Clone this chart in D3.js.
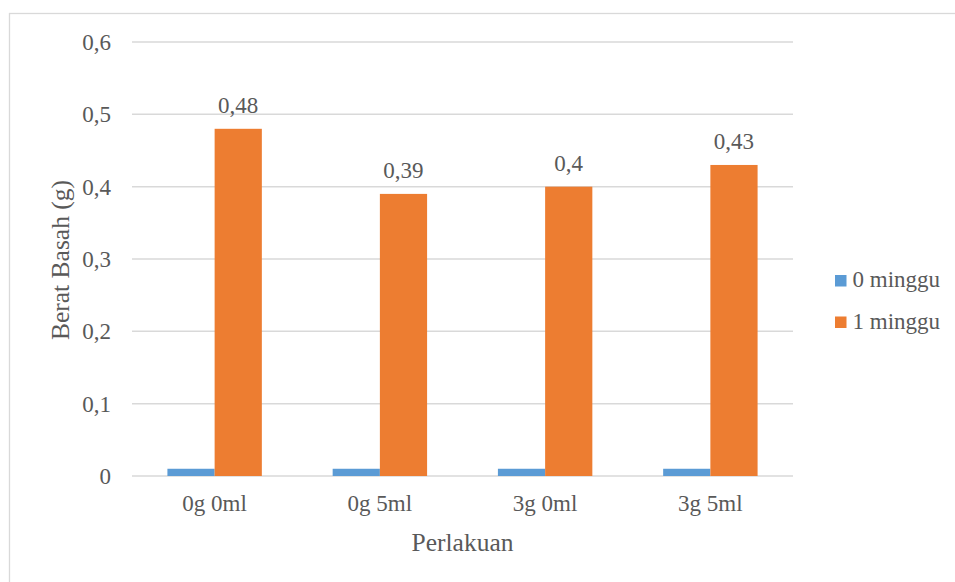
<!DOCTYPE html>
<html>
<head>
<meta charset="utf-8">
<script src="https://cdn.jsdelivr.net/npm/d3@7/dist/d3.min.js"></script>
<style>
  html, body { margin: 0; padding: 0; background: #ffffff; }
  svg { display: block; }
</style>
</head>
<body>
<svg id="chart" width="955" height="582" font-family="Liberation Serif, Times New Roman, Times, serif"></svg>
<script>
// Wet weight per treatment, at week 0 and week 1
const categories = ["0g 0ml", "0g 5ml", "3g 0ml", "3g 5ml"];
const seriesNames = ["0 minggu", "1 minggu"];
const week0 = [0.01, 0.01, 0.01, 0.01];
const week1 = [0.48, 0.39, 0.4, 0.43];
const week1Labels = ["0,48", "0,39", "0,4", "0,43"];
const yTicks = [0, 0.1, 0.2, 0.3, 0.4, 0.5, 0.6];
const yTickLabels = ["0", "0,1", "0,2", "0,3", "0,4", "0,5", "0,6"];
const colors = ["#5b9bd5", "#ed7d31"];

const FONT = "'Liberation Serif', 'Times New Roman', Times, serif";
const TEXT_COLOR = "#595959";

const svg = d3.select("#chart");

// Outer chart frame (right and bottom edges run past the canvas)
svg.append("rect")
  .attr("x", 9.5).attr("y", 13.5)
  .attr("width", 1000).attr("height", 1000)
  .attr("fill", "none").attr("stroke", "#d9d9d9").attr("stroke-width", 1.3);

const plot = { left: 132, right: 793, top: 42, bottom: 476 };

const y = d3.scaleLinear().domain([0, 0.6]).range([plot.bottom, plot.top]);
const x0 = d3.scaleBand().domain(categories).range([plot.left, plot.right]).padding(0);
const x1 = d3.scaleBand().domain(seriesNames).range([0, x0.bandwidth()])
  .paddingInner(0).paddingOuter(0.75);

function styleText(sel, size) {
  return sel.style("font-family", FONT).style("font-size", size + "px").attr("fill", TEXT_COLOR);
}

// Gridlines
svg.append("g").selectAll("line").data(yTicks).join("line")
  .attr("x1", plot.left).attr("x2", plot.right)
  .attr("y1", d => y(d)).attr("y2", d => y(d))
  .attr("stroke", "#d9d9d9").attr("stroke-width", 1.5);

// Y tick labels
styleText(svg.append("g").selectAll("text").data(yTicks).join("text")
  .attr("x", 111).attr("y", d => y(d))
  .attr("dy", "0.35em")
  .attr("text-anchor", "end")
  .text((d, i) => yTickLabels[i]), 23);

// Bars
const rows = categories.map((c, i) => ({ cat: c, vals: [week0[i], week1[i]] }));
const groups = svg.append("g").selectAll("g").data(rows).join("g")
  .attr("transform", d => `translate(${x0(d.cat)},0)`);

groups.selectAll("rect")
  .data(d => d.vals.map((v, k) => ({ key: seriesNames[k], v, k })))
  .join("rect")
  .attr("x", d => x1(d.key))
  .attr("width", x1.bandwidth())
  .attr("y", d => y(d.v))
  .attr("height", d => y(0) - y(d.v))
  .attr("fill", d => colors[d.k]);

// Value labels on the week-1 bars
styleText(svg.append("g").selectAll("text").data(rows).join("text")
  .attr("x", d => x0(d.cat) + x1(seriesNames[1]) + x1.bandwidth() / 2)
  .attr("y", (d, i) => y(week1[i]) - 16)
  .attr("text-anchor", "middle")
  .text((d, i) => week1Labels[i]), 23);

// Category labels
styleText(svg.append("g").selectAll("text").data(categories).join("text")
  .attr("x", d => x0(d) + x0.bandwidth() / 2)
  .attr("y", 511)
  .attr("text-anchor", "middle")
  .text(d => d), 23);

// Axis titles
styleText(svg.append("text")
  .attr("x", 462.5).attr("y", 551)
  .attr("text-anchor", "middle")
  .text("Perlakuan"), 25.5);

styleText(svg.append("text")
  .attr("transform", "translate(68.5,260) rotate(-90)")
  .attr("text-anchor", "middle")
  .text("Berat Basah (g)"), 25.5);

// Legend
const legend = svg.append("g").selectAll("g").data(seriesNames).join("g")
  .attr("transform", (d, i) => `translate(835,${275 + i * 41.5})`);
legend.append("rect")
  .attr("width", 11.5).attr("height", 11.5)
  .attr("fill", (d, i) => colors[i]);
styleText(legend.append("text")
  .attr("x", 17.5).attr("y", 12.3)
  .text(d => d), 23);
</script>
</body>
</html>
